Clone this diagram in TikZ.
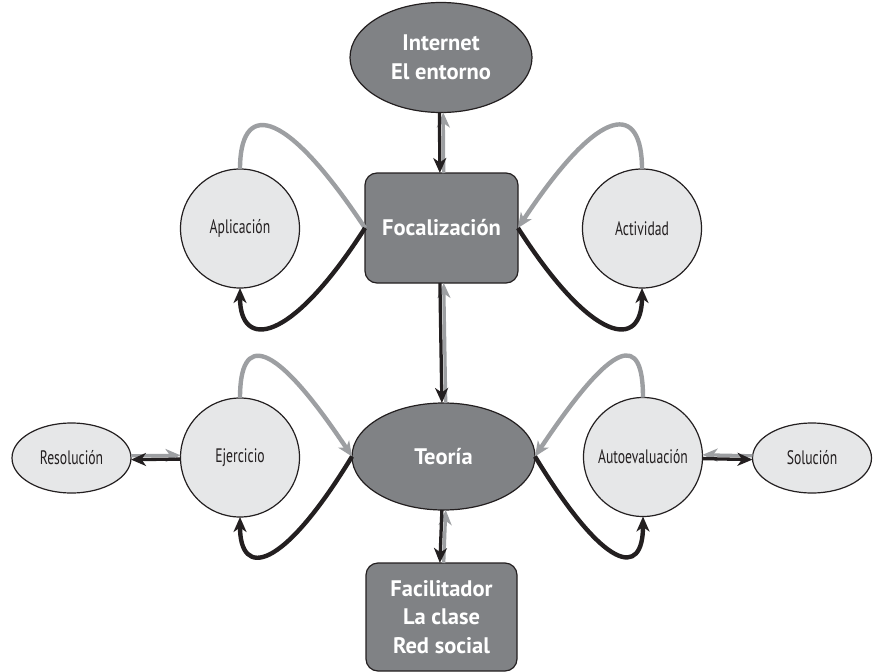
\documentclass[tikz,border=0pt]{standalone}
\usepackage{fontspec}
\setmainfont{PT Sans}
\newfontfamily\narrowfont[FakeStretch=0.70]{PT Sans}
\usetikzlibrary{shapes.geometric,arrows.meta}
\definecolor{darkfill}{HTML}{808285}
\definecolor{lightfill}{HTML}{E6E7E8}
\definecolor{arrgray}{HTML}{9D9FA2}
\definecolor{ink}{HTML}{231F20}
\tikzset{
  darknode/.style={draw=ink, line width=1.2pt, fill=darkfill, inner sep=0pt, outer sep=0pt,
    text=white, align=center, font=\bfseries\fontsize{22.5}{28.5}\selectfont},
  darkbox/.style={darknode, rectangle, rounded corners=12pt},
  darkell/.style={darknode, ellipse},
  lightnode/.style={draw=ink, line width=1.2pt, fill=lightfill, inner sep=0pt, outer sep=0pt,
    text=ink, font=\narrowfont\fontsize{19.5}{22}\selectfont},
  lightcirc/.style={lightnode, circle, minimum size=119pt},
  lightell/.style={lightnode, ellipse, minimum width=119pt, minimum height=70pt},
  loopg/.style={draw=arrgray, line width=4.4pt},
  loopb/.style={draw=ink, line width=4.4pt},
  bigtip/.style={-{Stealth[length=15pt,width=13pt,inset=4.5pt]}},
  pairg/.style={draw=arrgray, line width=3.3pt, -{Stealth[length=15pt,width=13pt,inset=4.5pt]}},
  pairb/.style={draw=ink, line width=3.3pt, -{Stealth[length=15pt,width=13pt,inset=4.5pt]}}
}
\begin{document}
\begin{tikzpicture}[x=1pt,y=-1pt]
\useasboundingbox (0,0) rectangle (873,672);
% nodes
\node[darkell, minimum width=182pt, minimum height=110pt] (I) at (441,57.5) {Internet\\El entorno};
\node[darkbox, minimum width=153pt, minimum height=110pt] (F) at (441.5,228) {Focalizaci\'on};
\node[darkell, minimum width=183pt, minimum height=107pt] (T) at (443.5,456.5) {Teor\'ia};
\node[darkbox, minimum width=151pt, minimum height=108pt] (Fa) at (441.5,617) {Facilitador\\La clase\\Red social};
\node[lightcirc] (A) at (240,228.5) {Aplicaci\'on};
\node[lightcirc] (Ac) at (642,228.5) {Actividad};
\node[lightcirc] (E) at (240,457.5) {Ejercicio};
\node[lightcirc] (Au) at (643,457) {Autoevaluaci\'on};
\node[lightell] (R) at (71.5,458) {Resoluci\'on};
\node[lightell] (S) at (812,458) {Soluci\'on};
% upper loops
\draw[loopg] (A.north) .. controls +(0,-64) and +(-85,-128) .. (F.west);
\draw[loopb, bigtip] (F.west) .. controls +(-75,117) and +(0,62) .. (A.south);
\draw[loopg, bigtip] (Ac.north) .. controls +(0,-64) and +(85,-128) .. (F.east);
\draw[loopb, bigtip] (F.east) .. controls +(75,117) and +(0,62) .. (Ac.south);
% lower loops
\draw[loopg, bigtip] (E.north) .. controls +(0,-64) and +(-80,-120) .. (T.west);
\draw[loopb, bigtip] (T.west) .. controls +(-70,115) and +(0,62) .. (E.south);
\draw[loopg, bigtip] (Au.north) .. controls +(0,-64) and +(80,-120) .. (T.east);
\draw[loopb, bigtip] (T.east) .. controls +(70,115) and +(0,62) .. (Au.south);
% vertical pairs
\draw[pairg] ([xshift=2.2pt]F.north) -- ([xshift=2.2pt]I.south);
\draw[pairb] ([xshift=-1.6pt]I.south) -- ([xshift=-1.6pt]F.north);
\draw[pairg] ([xshift=2.2pt]T.north) -- ([xshift=2.2pt]F.south);
\draw[pairb] ([xshift=-1.6pt]F.south) -- ([xshift=-1.6pt]T.north);
\draw[pairg] ([xshift=2.2pt]Fa.north) -- ([xshift=2.2pt]T.south);
\draw[pairb] ([xshift=-1.6pt]T.south) -- ([xshift=-1.6pt]Fa.north);
% horizontal pairs
\draw[pairg] ([yshift=2.2pt]R.east) -- ([yshift=2.2pt]E.west);
\draw[pairb] ([yshift=-1.6pt]E.west) -- ([yshift=-1.6pt]R.east);
\draw[pairg] ([yshift=2.2pt]S.west) -- ([yshift=2.2pt]Au.east);
\draw[pairb] ([yshift=-1.6pt]Au.east) -- ([yshift=-1.6pt]S.west);
\end{tikzpicture}
\end{document}
